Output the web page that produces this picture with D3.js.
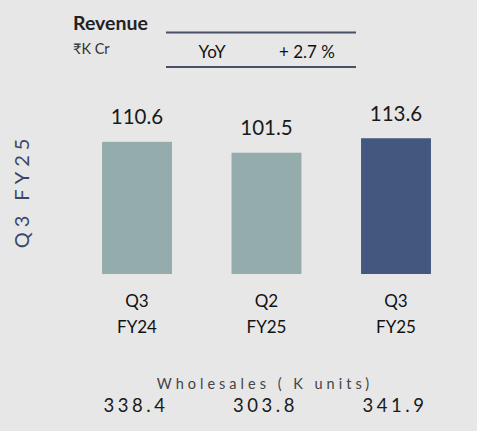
<!DOCTYPE html>
<html>
<head>
<meta charset="utf-8">
<script src="https://cdn.jsdelivr.net/npm/d3@7"></script>
<style>
  html, body { margin: 0; padding: 0; background: #e7e7e7; }
  svg { display: block; font-family: Lato, "Open Sans", sans-serif; }
</style>
</head>
<body>
<svg id="chart"></svg>
<script>
// Chart data
const quarters = ["Q3", "Q2", "Q3"];
const fiscalYears = ["FY24", "FY25", "FY25"];
const revenue = [110.6, 101.5, 113.6];
const wholesales = [338.4, 303.8, 341.9];
const yoyLabel = "+ 2.7 %";

const barColors = ["#95acad", "#95acad", "#44587f"];

const width = 477, height = 431;

const svg = d3.select("#chart")
    .attr("width", width)
    .attr("height", height);

const keys = quarters.map((q, i) => q + " " + fiscalYears[i] + " " + i);

// x scale: band per period
const x = d3.scaleBand()
    .domain(keys)
    .range([72.25, 460.75])
    .paddingInner(0.46)
    .paddingOuter(0.23);

// y scale: revenue
const baseY = 274;
const y = d3.scaleLinear()
    .domain([0, 120])
    .range([baseY, baseY - 143.4]);

// Header
svg.append("text")
    .attr("x", 73).attr("y", 30)
    .style("font-size", "19.5px")
    .style("font-weight", "bold")
    .attr("fill", "#222")
    .text("Revenue");

svg.append("text")
    .attr("x", 73).attr("y", 54)
    .style("font-size", "14.5px")
    .attr("fill", "#333")
    .text("₹K Cr");

[32.5, 67].forEach(ly => {
    svg.append("line")
        .attr("x1", 166).attr("x2", 356)
        .attr("y1", ly).attr("y2", ly)
        .attr("stroke", "#4a5068")
        .attr("stroke-width", 2.2);
});

svg.append("text")
    .attr("x", 212).attr("y", 58)
    .attr("text-anchor", "middle")
    .style("font-size", "17px")
    .attr("fill", "#111")
    .text("YoY");

svg.append("text")
    .attr("x", 307).attr("y", 58)
    .attr("text-anchor", "middle")
    .style("font-size", "17px")
    .attr("fill", "#111")
    .text(yoyLabel);

// Side label
svg.append("text")
    .attr("transform", "translate(29,191) rotate(-90)")
    .attr("text-anchor", "middle")
    .style("font-size", "20px")
    .style("letter-spacing", "5px")
    .attr("fill", "#3b4763")
    .text("Q3 FY25");

// Bars
svg.append("g").selectAll("rect")
    .data(revenue)
    .join("rect")
    .attr("x", (d, i) => x(keys[i]))
    .attr("y", d => y(d))
    .attr("width", x.bandwidth())
    .attr("height", d => baseY - y(d))
    .attr("fill", (d, i) => barColors[i]);

// Value labels
svg.append("g").selectAll("text")
    .data(revenue)
    .join("text")
    .attr("x", (d, i) => x(keys[i]) + x.bandwidth() / 2)
    .attr("y", d => y(d) - 17.5)
    .attr("text-anchor", "middle")
    .style("font-size", "20.5px")
    .attr("fill", "#1a1a1a")
    .text(d => d.toFixed(1));

// Category labels
const cats = svg.append("g").selectAll("g")
    .data(keys)
    .join("g")
    .attr("transform", k => `translate(${x(k) + x.bandwidth() / 2},0)`);

cats.append("text")
    .attr("y", 307)
    .attr("text-anchor", "middle")
    .style("font-size", "17px")
    .attr("fill", "#111")
    .text((k, i) => quarters[i]);

cats.append("text")
    .attr("y", 333)
    .attr("text-anchor", "middle")
    .style("font-size", "17px")
    .attr("fill", "#111")
    .text((k, i) => fiscalYears[i]);

// Wholesales
svg.append("text")
    .attr("x", 265).attr("y", 389)
    .attr("text-anchor", "middle")
    .style("font-size", "14.5px")
    .style("letter-spacing", "4px")
    .attr("fill", "#444")
    .text("Wholesales ( K units)");

svg.append("g").selectAll("text")
    .data(wholesales)
    .join("text")
    .attr("x", (d, i) => x(keys[i]) + x.bandwidth() / 2 - 1)
    .attr("y", 412)
    .attr("text-anchor", "middle")
    .style("font-size", "18.5px")
    .style("letter-spacing", "3.5px")
    .attr("fill", "#1a1a1a")
    .text(d => d.toFixed(1));
</script>
</body>
</html>
